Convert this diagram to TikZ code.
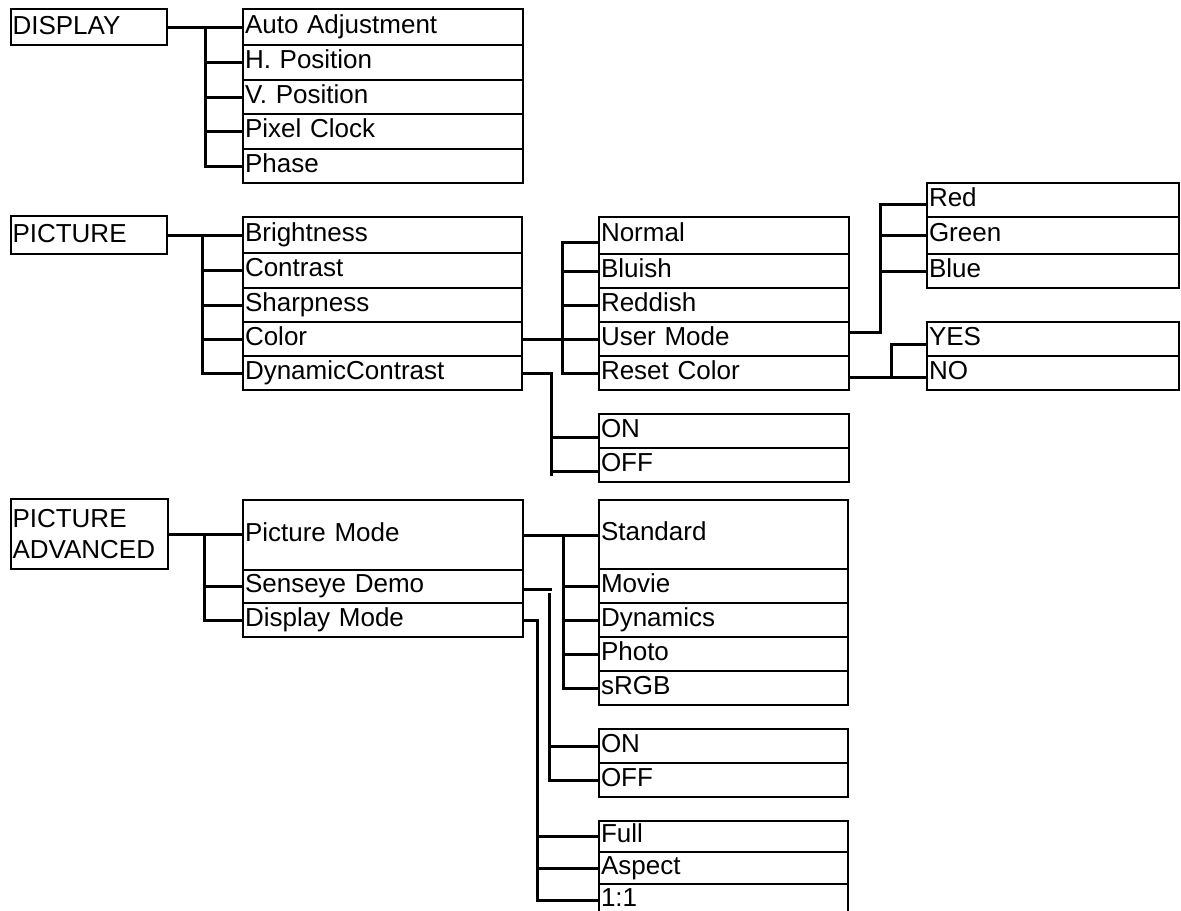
\documentclass[tikz,border=0pt]{standalone}
\usepackage{fontspec}
\setmainfont{Liberation Sans}
\begin{document}
\begin{tikzpicture}[x=0.75pt,y=-0.75pt,
  framebox/.style={draw, line width=1.5pt, anchor=north west, inner xsep=1.5pt, inner ysep=0pt,
    align=left, font=\fontsize{19.5pt}{23.25pt}\selectfont},
  itembox/.style={framebox, text height=13.5pt, text depth=4.5pt},
  mainbox/.style={framebox, text height=13.5pt, text depth=3pt},
  bw/.style={minimum width=#1*0.75pt, /utils/exec={\pgfmathsetlengthmacro\mytw{#1*0.75pt-3pt}}, text width=\mytw},
  bh/.style={minimum height=#1*0.75pt},
  conn/.style={line width=2.25pt}]
\useasboundingbox (0,0) rectangle (1181,910);
\clip (0,0) rectangle (1181,910);

% ---------- DISPLAY ----------
\node[mainbox, bw=156.5, bh=36] (disp) at (9.5,8) {DISPLAY};
\node[itembox, bw=280, bh=36] (d1) at (242,8) {Auto Adjustment};
\node[itembox, bw=280, bh=35] (d2) at (242,44) {H. Position};
\node[itembox, bw=280, bh=34] (d3) at (242,79) {V. Position};
\node[itembox, bw=280, bh=35] (d4) at (242,113) {Pixel Clock};
\node[itembox, bw=280, bh=34] (d5) at (242,148) {Phase};

% ---------- PICTURE ----------
\node[mainbox, bw=156.5, bh=38] (pic) at (9.5,215) {PICTURE};
\node[itembox, bw=279, bh=36] (p1) at (242,216) {Brightness};
\node[itembox, bw=279, bh=35] (p2) at (242,252) {Contrast};
\node[itembox, bw=279, bh=34] (p3) at (242,287) {Sharpness};
\node[itembox, bw=279, bh=34] (p4) at (242,321) {Color};
\node[itembox, bw=279, bh=34] (p5) at (242,355) {DynamicContrast};

\node[itembox, bw=250, bh=37] (c1) at (598,216) {Normal};
\node[itembox, bw=250, bh=34] (c2) at (598,253) {Bluish};
\node[itembox, bw=250, bh=34] (c3) at (598,287) {Reddish};
\node[itembox, bw=250, bh=34] (c4) at (598,321) {User Mode};
\node[itembox, bw=250, bh=34] (c5) at (598,355) {Reset Color};

\node[itembox, bw=252, bh=34] (r1) at (926,182) {Red};
\node[itembox, bw=252, bh=37] (r2) at (926,216) {Green};
\node[itembox, bw=252, bh=34] (r3) at (926,253) {Blue};

\node[itembox, bw=252, bh=34] (y1) at (926,321) {YES};
\node[itembox, bw=252, bh=34] (y2) at (926,355) {NO};

\node[itembox, bw=250, bh=34] (o1) at (598,413) {ON};
\node[itembox, bw=250, bh=34] (o2) at (598,447) {OFF};

% ---------- PICTURE ADVANCED ----------
\node[framebox, bw=157.5, bh=70] (pa) at (9.5,498) {PICTURE\\ADVANCED};
\node[itembox, bw=280, bh=70] (a1) at (242,499) {Picture Mode};
\node[itembox, bw=280, bh=33] (a2) at (242,569) {Senseye Demo};
\node[itembox, bw=280, bh=34] (a3) at (242,602) {Display Mode};

\node[itembox, bw=249, bh=69] (m1) at (598,499) {Standard};
\node[itembox, bw=249, bh=34] (m2) at (598,568) {Movie};
\node[itembox, bw=249, bh=34] (m3) at (598,602) {Dynamics};
\node[itembox, bw=249, bh=34] (m4) at (598,636) {Photo};
\node[itembox, bw=249, bh=34] (m5) at (598,670) {sRGB};

\node[itembox, bw=249, bh=34] (s1) at (598,728) {ON};
\node[itembox, bw=249, bh=34] (s2) at (598,762) {OFF};

\node[itembox, bw=249, bh=31] (f1) at (598,820) {Full};
\node[itembox, bw=249, bh=32] (f2) at (598,851) {Aspect};
\node[itembox, bw=249, bh=33] (f3) at (598,883) {1:1};

% ---------- connectors: DISPLAY ----------
\coordinate (sD) at (205,0);
\draw[conn] (disp.east) -- (d1.west |- disp.east);
\draw[conn] (sD |- d1.west) -- (sD |- d5.west) -- (d5.west);
\foreach \n in {d2,d3,d4} \draw[conn] (sD |- \n.west) -- (\n.west);

% ---------- connectors: PICTURE ----------
\coordinate (sP) at (202.5,0);
\draw[conn] (pic.east) -- (p1.west |- pic.east);
\draw[conn] (sP |- p1.west) -- (sP |- p5.west) -- (p5.west);
\foreach \n in {p2,p3,p4} \draw[conn] (sP |- \n.west) -- (\n.west);

% Color
\coordinate (sC) at (562,0);
\coordinate (c1b) at ([yshift=-4.9pt]c1.west);
\draw[conn] (p4.east) -- (c4.west |- p4.east);
\draw[conn] (c1b) -- (sC |- c1b) -- (sC |- c5.west) -- (c5.west);
\foreach \n in {c2,c3} \draw[conn] (sC |- \n.west) -- (\n.west);

% DynamicContrast
\coordinate (sDC) at (551,0);
\coordinate (o1b) at ([yshift=-4.5pt]o1.west);
\coordinate (o2b) at ([yshift=-4.5pt]o2.west);
\draw[conn] (p5.east) -| (sDC |- o2b) -- ++(0,5);
\draw[conn] (sDC |- o1b) -- (o1b);
\draw[conn] (sDC |- o2b) -- (o2b);

% User Mode
\coordinate (sU) at (880,0);
\coordinate (c4u) at ([yshift=5.25pt]c4.east);
\coordinate (r1b) at ([yshift=-3pt]r1.west);
\draw[conn] (c4u) -| (sU |- r1b) -- (r1b);
\draw[conn] (sU |- r2.west) -- (r2.west);
\draw[conn] (sU |- r3.west) -- (r3.west);

% Reset Color
\coordinate (sR) at (891,0);
\coordinate (c5r) at ([yshift=-3pt]c5.east);
\coordinate (y1b) at ([yshift=-3.75pt]y1.west);
\draw[conn] (c5r) -- (y2.west |- c5r);
\draw[conn] (sR |- c5r) |- (y1b);

% ---------- connectors: PICTURE ADVANCED ----------
\coordinate (sA) at (204,0);
\draw[conn] (pa.east) -- (a1.west |- pa.east);
\draw[conn] (sA |- pa.east) -- (sA |- a3.west) -- (a3.west);
\draw[conn] (sA |- a2.west) -- (a2.west);

% Picture Mode
\coordinate (sM) at (563,0);
\draw[conn] (a1.east) -- (m1.west |- a1.east);
\draw[conn] (sM |- a1.east) -- (sM |- m5.west) -- (m5.west);
\foreach \n in {m2,m3,m4} \draw[conn] (sM |- \n.west) -- (\n.west);

% Senseye Demo
\coordinate (sS) at (549,0);
\coordinate (a2e) at ([yshift=-2.6pt]a2.east);
\coordinate (sdend) at (552,0);
\coordinate (sdtop) at (549,593);
\coordinate (sdbot) at (549,782);
\draw[conn] (a2e) -- (sdend |- a2e);
\draw[conn] (sdtop) -- (sdbot);
\draw[conn] (sS |- s1.west) -- (s1.west);
\draw[conn] (sS |- s2.west) -- (s2.west);

% Display Mode
\coordinate (sX) at (537,0);
\draw[conn] (a3.east) -| (sX |- f3.west) -- (f3.west);
\draw[conn] (sX |- f1.west) -- (f1.west);
\draw[conn] (sX |- f2.west) -- (f2.west);
\end{tikzpicture}
\end{document}
